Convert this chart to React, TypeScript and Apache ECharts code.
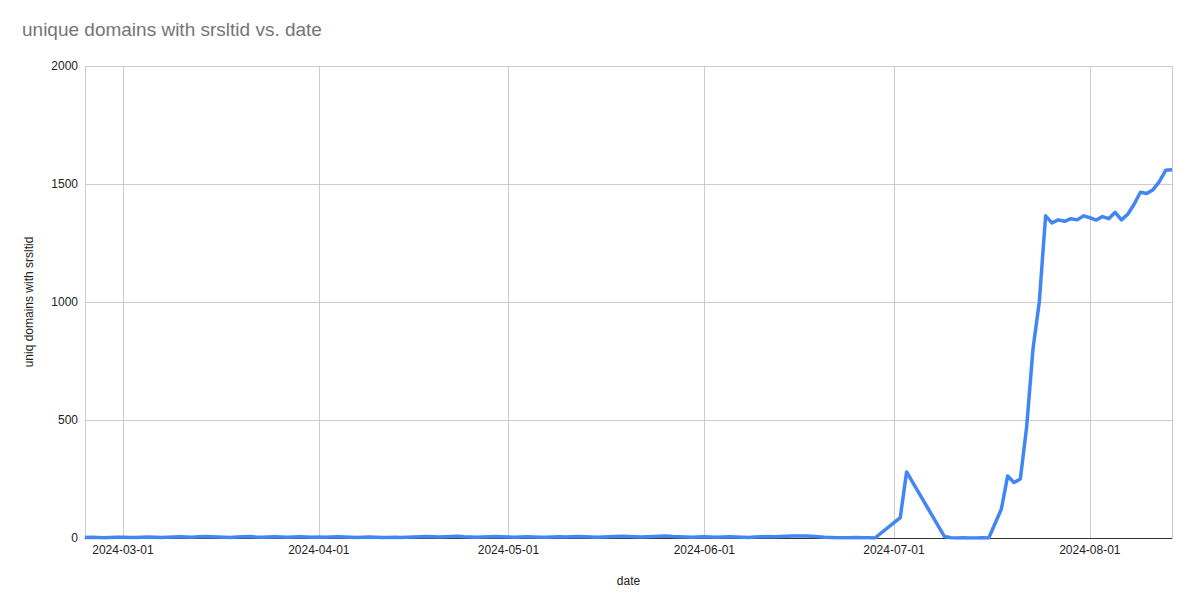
import React, { useEffect, useRef } from "react";
import * as echarts from "echarts";

const titleText = "unique domains with srsltid vs. date";
const xAxisName = "date";
const yAxisName = "uniq domains with srsltid";

// Daily values from earlyStart (2024-02-24) through 2024-06-28
const earlyStart = "2024-02-24";
const earlyValues: number[] = [
  // Feb 24-29
  2, 3, 2, 1, 2, 3,
  // Mar
  3, 2, 2, 3, 4, 3, 2, 3, 4, 5, 4, 3, 5, 6, 5, 4, 3, 2, 4, 5, 6, 4, 3, 4, 5, 4, 3, 4, 5, 4, 3,
  // Apr
  4, 3, 4, 5, 4, 3, 2, 3, 4, 3, 2, 2, 3, 2, 3, 4, 5, 6, 5, 4, 5, 6, 7, 5, 4, 3, 4, 5, 6, 5,
  // May
  4, 3, 4, 5, 4, 3, 3, 4, 5, 4, 5, 6, 5, 4, 3, 4, 5, 6, 7, 6, 5, 4, 5, 6, 7, 8, 6, 5, 4, 3, 4,
  // Jun 1-28
  5, 4, 3, 4, 5, 4, 3, 2, 4, 5, 6, 5, 6, 7, 8, 9, 8, 7, 5, 3, 2, 1, 1, 1, 2, 1, 1, 0,
];

const lateDates: string[] = [
  "2024-07-02", "2024-07-03", "2024-07-09", "2024-07-10", "2024-07-11", "2024-07-12",
  "2024-07-13", "2024-07-14", "2024-07-15", "2024-07-16", "2024-07-18", "2024-07-19",
  "2024-07-20", "2024-07-21", "2024-07-22", "2024-07-23", "2024-07-24", "2024-07-25",
  "2024-07-26", "2024-07-27", "2024-07-28", "2024-07-29", "2024-07-30", "2024-07-31",
  "2024-08-01", "2024-08-02", "2024-08-03", "2024-08-04", "2024-08-05", "2024-08-06",
  "2024-08-07", "2024-08-08", "2024-08-09", "2024-08-10", "2024-08-11", "2024-08-12",
  "2024-08-13", "2024-08-14",
];
const lateValues: number[] = [
  86, 280, 6, 1, 0, 1,
  0, 0, 1, 0, 123, 263,
  235, 250, 470, 800, 1000, 1365,
  1335, 1348, 1342, 1353, 1348, 1365,
  1357, 1347, 1362, 1353, 1380, 1348,
  1372, 1414, 1465, 1460, 1476, 1510,
  1558, 1560,
];

const yTicks = [0, 500, 1000, 1500, 2000];

const DAY = 86400000;

function parseDate(d: string): number {
  const [y, m, dd] = d.split("-").map(Number);
  return Date.UTC(y, m - 1, dd);
}

function buildData(): [number, number][] {
  const out: [number, number][] = [];
  const start = parseDate(earlyStart);
  earlyValues.forEach((v, i) => out.push([start + i * DAY, v]));
  lateDates.forEach((d, i) => out.push([parseDate(d), lateValues[i]]));
  return out;
}

const FONT = "'Liberation Sans', Arial, sans-serif";

export default function App() {
  const ref = useRef<HTMLDivElement>(null);
  useEffect(() => {
    document.body.style.margin = "0";
    if (!ref.current) return;
    const chart = echarts.init(ref.current, undefined, { renderer: "svg" });
    const data = buildData();
    const pad = (n: number) => (n < 10 ? "0" + n : "" + n);
    chart.setOption({
      animation: false,
      useUTC: true,
      backgroundColor: "#ffffff",
      textStyle: { fontFamily: FONT },
      title: {
        text: titleText,
        left: 17,
        top: 15,
        textStyle: { fontFamily: FONT, fontSize: 19, fontWeight: "normal", color: "#757575" },
      },
      grid: { left: 85, right: 28, top: 66, bottom: 55, containLabel: false },
      xAxis: {
        type: "time",
        min: data[0][0],
        max: data[data.length - 1][0],
        name: xAxisName,
        nameLocation: "middle",
        nameGap: 37,
        nameTextStyle: { fontFamily: FONT, fontSize: 12, color: "#222222" },
        splitNumber: 6,
        minInterval: 28 * DAY,
        axisLine: { show: true, lineStyle: { color: "#333333", width: 1 } },
        axisTick: { show: false },
        axisLabel: {
          fontFamily: FONT,
          fontSize: 12,
          color: "#222222",
          margin: 6,
          hideOverlap: false,
          showMinLabel: false,
          showMaxLabel: false,
          formatter: (val: number) => {
            const d = new Date(val);
            return `${d.getUTCFullYear()}-${pad(d.getUTCMonth() + 1)}-${pad(d.getUTCDate())}`;
          },
        },
        splitLine: { show: true, lineStyle: { color: "#cccccc", width: 1 } },
      },
      yAxis: {
        type: "value",
        min: yTicks[0],
        max: yTicks[yTicks.length - 1],
        interval: 500,
        name: yAxisName,
        nameLocation: "middle",
        nameGap: 50,
        nameRotate: 90,
        nameTextStyle: { fontFamily: FONT, fontSize: 12, color: "#222222" },
        axisLine: { show: false },
        axisTick: { show: false },
        axisLabel: {
          fontFamily: FONT,
          fontSize: 12,
          color: "#222222",
          margin: 7,
          formatter: (v: number) => String(v),
        },
        splitLine: { show: true, lineStyle: { color: "#cccccc", width: 1 } },
      },
      series: [
        {
          type: "line",
          data,
          showSymbol: false,
          symbol: "none",
          lineStyle: { color: "#4285f4", width: 3.5, join: "round" },
          itemStyle: { color: "#4285f4" },
        },
      ],
    });
    return () => chart.dispose();
  }, []);
  return <div ref={ref} style={{ width: 1200, height: 593 }} />;
}
